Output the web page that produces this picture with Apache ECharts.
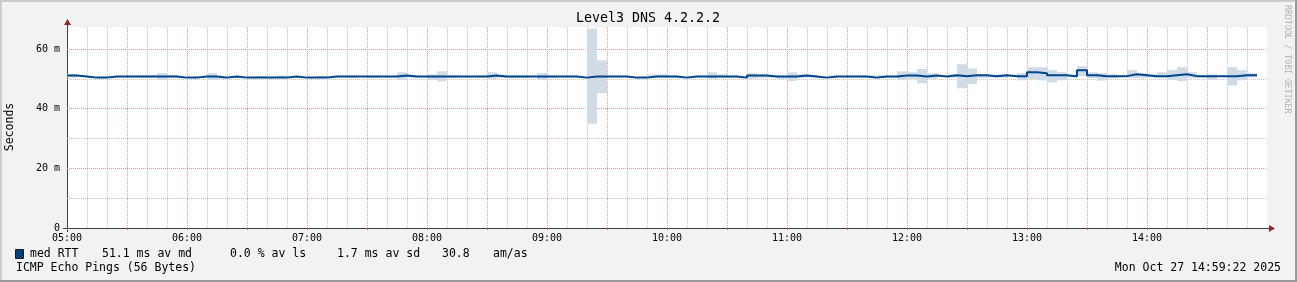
<!DOCTYPE html>
<html><head><meta charset="utf-8">
<script src="https://cdn.jsdelivr.net/npm/echarts@6/dist/echarts.min.js"></script>
<style>html,body{margin:0;padding:0;background:#f2f2f2;overflow:hidden}#c{width:1297px;height:282px}</style>
</head><body><div id="c"></div>
<script>
// ---- data (5-minute steps starting 05:00) ----
const stepMinutes = 5;
const median = [
51.2,50.9,50.5,50.5,50.9,50.9,50.9,50.9,50.9,50.9,
50.9,50.5,50.5,50.9,50.9,50.5,50.9,50.5,50.5,50.5,
50.5,50.5,50.9,50.5,50.5,50.5,50.9,50.9,50.9,50.9,
50.9,50.9,50.9,51.2,50.9,50.9,50.9,50.9,50.9,50.9,
50.9,50.9,51.2,50.9,50.9,50.9,50.9,50.9,50.9,50.9,
50.9,50.5,50.9,50.9,50.9,50.9,50.5,50.5,50.9,50.9,
50.9,50.5,50.9,50.9,50.9,50.9,50.9,50.5,51.2,51.2,
50.9,50.9,50.9,51.2,50.9,50.5,50.9,50.9,50.9,50.9,
50.5,50.9,50.9,51.2,51.2,50.9,51.2,50.9,51.3,51.0,
51.3,51.3,51.0,51.3,51.0,51.0,52.3,52.0,51.3,51.3,
51.0,53.0,51.3,51.0,51.0,51.0,51.6,51.3,51.0,51.0,
51.3,51.6,51.0,51.0,51.0,51.0,51.0,51.3,51.3
];
const smokeLow = [
50.5,50.7,50.3,50.3,50.7,50.7,50.7,50.5,50.5,49.7,
50.5,50.3,50.3,50.7,49.7,50.1,50.7,50.3,50.3,50.4,
50.3,50.4,50.7,50.3,50.3,50.4,50.7,50.7,50.5,50.7,
50.5,50.7,50.7,49.8,50.5,50.7,49.7,49.3,50.4,50.7,
50.7,50.5,50.1,50.4,50.4,50.4,50.7,49.7,50.5,50.7,
50.7,50.3,35.0,45.3,50.7,50.7,50.3,50.3,50.3,50.5,
50.5,50.3,50.7,50.7,50.1,50.5,50.5,50.3,50.1,50.3,
50.5,50.1,49.4,50.5,50.5,50.3,50.5,50.7,50.7,50.5,
50.4,50.5,50.5,49.8,50.1,48.6,50.1,50.7,50.5,46.9,
48.3,50.3,50.5,50.5,50.8,49.6,50.0,49.6,48.9,49.6,
50.5,51.0,50.3,49.5,50.3,50.8,50.3,50.3,50.5,50.5,
49.8,49.3,50.3,50.5,49.8,50.8,47.9,49.6,50.6
];
const smokeHigh = [
51.7,51.1,50.7,50.7,51.1,51.1,51.1,51.3,51.3,52.0,
51.3,50.7,50.7,51.1,52.0,51.1,51.1,50.7,50.7,51.0,
50.7,51.2,51.1,50.7,50.7,51.1,51.1,51.1,51.2,51.1,
51.2,51.1,51.1,52.3,51.2,51.1,51.6,52.6,51.2,51.1,
51.1,51.2,52.3,51.2,51.2,51.2,51.1,52.0,51.2,51.1,
51.1,50.7,67.0,56.3,51.1,51.1,50.7,50.7,51.6,51.6,
51.2,50.7,51.1,51.1,52.3,51.6,51.2,50.7,52.0,51.6,
51.2,51.2,52.3,51.6,51.2,50.7,51.2,51.1,51.1,51.2,
51.2,51.4,51.2,52.6,52.3,53.4,52.0,51.1,51.6,55.0,
53.6,51.6,51.3,51.6,51.2,52.0,54.0,54.0,53.0,52.3,
51.3,54.3,52.3,52.0,51.6,51.2,53.0,52.0,51.6,52.3,
53.0,54.0,52.3,51.3,51.6,51.2,54.0,53.0,52.0
];
const xTickLabels = ['05:00','06:00','07:00','08:00','09:00','10:00','11:00','12:00','13:00','14:00'];
const yTickValues = [0, 20, 40, 60];
const yTickLabels = ['0', '20 m', '40 m', '60 m'];
const xMajorGrid = [30, 60, 90, 120, 150, 180, 210, 240, 270, 300, 330, 360, 390, 420, 450, 480, 510, 540, 570];
const yMajorGrid = [20, 40, 60];
const yMinorGrid = [10, 30, 50];
const legendTexts = ['med RTT', '51.1 ms av md', '0.0 % av ls', '1.7 ms av sd', '30.8', 'am/as'];
const titleText = 'Level3 DNS 4.2.2.2';
const footerText = 'ICMP Echo Pings (56 Bytes)';
const dateText = 'Mon Oct 27 14:59:22 2025';

const X_MIN = 0, X_MAX = 600, Y_MIN = 0, Y_MAX = 67.5;

// ---- build series data ----
const lineData = median.map((v, i) => [i * stepMinutes, v]);
lineData.push([median.length * stepMinutes, median[median.length - 1]]);
const smokeData = median.map((v, i) => [i * stepMinutes, (i + 1) * stepMinutes, smokeLow[i], smokeHigh[i]]);
// grid lines: [orientation (0 = vertical, 1 = horizontal), value, major?]
const gridData = [];
for (let m = 10; m < X_MAX; m += 10) gridData.push([0, m, xMajorGrid.indexOf(m) >= 0 ? 1 : 0]);
yMinorGrid.forEach(v => gridData.push([1, v, 0]));
yMajorGrid.forEach(v => gridData.push([1, v, 1]));

const MONO = '"DejaVu Sans Mono", "Liberation Mono", monospace';
const GRID_C = '#c4c4c4';
const MGRID_C = '#e69494';
const ARROW_C = '#8b2a2a';
const AXIS_C = '#404040';
const LINE_C = '#00468c';
const SMOKE_C = '#cfdbe7';

const chart = echarts.init(document.getElementById('c'), null, {renderer: 'canvas'});
const legendX = [30, 102, 230, 337, 442, 493];

chart.setOption({
  backgroundColor: '#f2f2f2',
  animation: false,
  grid: {left: 67, top: 27, width: 1200, height: 201, show: true, backgroundColor: '#ffffff', borderWidth: 0},
  xAxis: {
    type: 'value', min: X_MIN, max: X_MAX, interval: 30,
    axisLine: {show: true, lineStyle: {color: AXIS_C, width: 1}},
    axisTick: {show: true, length: 2, inside: false, lineStyle: {color: '#b06060'}},
    splitLine: {show: false},
    axisLabel: {
      margin: 5, fontFamily: MONO, fontSize: 10, color: '#000',
      showMaxLabel: false,
      formatter: v => (v % 60 === 0 && v / 60 < xTickLabels.length) ? xTickLabels[v / 60] : ''
    }
  },
  yAxis: {
    type: 'value', min: Y_MIN, max: Y_MAX, interval: 10,
    axisLine: {show: true, lineStyle: {color: AXIS_C, width: 1}},
    axisTick: {show: false},
    splitLine: {show: false},
    axisLabel: {
      margin: 7, fontFamily: MONO, fontSize: 10, color: '#000', showMaxLabel: false,
      formatter: v => { const k = yTickValues.indexOf(v); return k >= 0 ? yTickLabels[k] : ''; }
    }
  },
  series: [
    {
      type: 'custom', name: 'grid', z: 1, silent: true,
      data: gridData,
      encode: {x: -1, y: -1},
      renderItem: (params, api) => {
        const horiz = api.value(0) === 1, v = api.value(1), major = api.value(2) === 1;
        let x1, y1, x2, y2;
        if (horiz) {
          const a = api.coord([X_MIN, v]), b = api.coord([X_MAX, v]);
          const y = Math.floor(a[1]) + 0.5;
          x1 = a[0]; x2 = b[0]; y1 = y; y2 = y;
        } else {
          const a = api.coord([v, Y_MIN]), b = api.coord([v, Y_MAX]);
          const x = Math.floor(a[0]) + 0.5;
          x1 = x; x2 = x; y1 = a[1]; y2 = b[1];
        }
        return {type: 'line', shape: {x1, y1, x2, y2}, style: {stroke: major ? MGRID_C : GRID_C, lineWidth: 1, lineDash: [1, 1]}};
      }
    },
    {
      type: 'custom', name: 'smoke', z: 2,
      data: smokeData,
      encode: {x: [0, 1], y: [2, 3]},
      renderItem: (params, api) => {
        const p0 = api.coord([api.value(0), api.value(2)]);
        const p1 = api.coord([api.value(1), api.value(3)]);
        return {type: 'rect', shape: {x: p0[0], y: p1[1], width: p1[0] - p0[0], height: p0[1] - p1[1]}, style: {fill: SMOKE_C}};
      }
    },
    {
      type: 'line', name: 'med RTT', z: 3, step: 'end', symbol: 'none',
      data: lineData,
      lineStyle: {color: LINE_C, width: 2}
    }
  ],
  graphic: [
    {type: 'rect', shape: {x: 0, y: 0, width: 1297, height: 2}, style: {fill: '#cbcbcb'}, silent: true},
    {type: 'rect', shape: {x: 0, y: 0, width: 2, height: 282}, style: {fill: '#cbcbcb'}, silent: true},
    {type: 'rect', shape: {x: 0, y: 280, width: 1297, height: 2}, style: {fill: '#999999'}, silent: true},
    {type: 'rect', shape: {x: 1295, y: 0, width: 2, height: 282}, style: {fill: '#999999'}, silent: true},
    {type: 'line', shape: {x1: 63, y1: 228.5, x2: 67, y2: 228.5}, style: {stroke: AXIS_C, lineWidth: 1}, silent: true},
    {type: 'line', shape: {x1: 1267, y1: 228.5, x2: 1270, y2: 228.5}, style: {stroke: AXIS_C, lineWidth: 1}, silent: true},
    {type: 'line', shape: {x1: 67.5, y1: 228, x2: 67.5, y2: 232}, style: {stroke: AXIS_C, lineWidth: 1}, silent: true},
    {type: 'line', shape: {x1: 67.5, y1: 27, x2: 67.5, y2: 24}, style: {stroke: AXIS_C, lineWidth: 1}, silent: true},
    {type: 'polygon', shape: {points: [[1269, 225], [1275, 228.5], [1269, 232]]}, style: {fill: ARROW_C}, silent: true},
    {type: 'polygon', shape: {points: [[64, 25], [67.5, 19], [71, 25]]}, style: {fill: ARROW_C}, silent: true},
    {type: 'text', x: 648, y: 19, style: {text: titleText, font: '13.3px ' + MONO, fill: '#000', align: 'center', verticalAlign: 'middle'}},
    {type: 'text', x: 10, y: 127, rotation: Math.PI / 2, style: {text: 'Seconds', font: '11.5px ' + MONO, fill: '#000', align: 'center', verticalAlign: 'middle'}},
    {type: 'text', x: 1287, y: 5, rotation: -Math.PI / 2, style: {text: 'RRDTOOL / TOBI OETIKER', font: '8.2px ' + MONO, fill: '#b4b4b4', align: 'left', verticalAlign: 'middle'}},
    {type: 'rect', shape: {x: 15.5, y: 249.5, width: 8, height: 9}, style: {fill: '#004080', stroke: '#1a1a1a', lineWidth: 1}},
    ...legendTexts.map((t, i) => ({type: 'text', x: legendX[i], y: 254, style: {text: t, font: '11.5px ' + MONO, fill: '#000', align: 'left', verticalAlign: 'middle'}})),
    {type: 'text', x: 16, y: 268, style: {text: footerText, font: '11.5px ' + MONO, fill: '#000', align: 'left', verticalAlign: 'middle'}},
    {type: 'text', x: 1281, y: 268, style: {text: dateText, font: '11.5px ' + MONO, fill: '#000', align: 'right', verticalAlign: 'middle'}}
  ]
});
</script>
</body></html>
